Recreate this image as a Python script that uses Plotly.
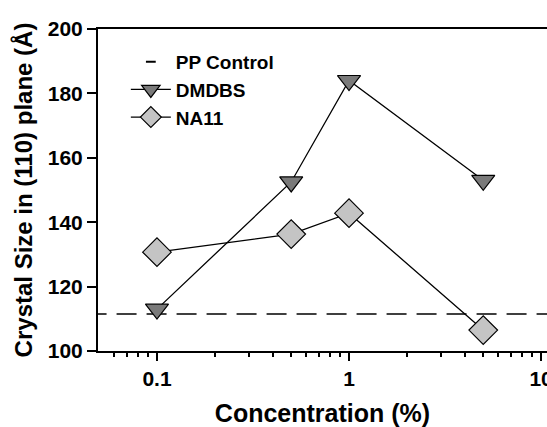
import plotly.graph_objects as go
import numpy as np

conc = [0.1, 0.5, 1, 5]
dmdbs = [113, 152.5, 184, 153]
na11 = [130.7, 136.3, 142.8, 106.5]
pp_control = 111.5
x_ticks = [0.1, 1, 10]
x_minor = [0.06, 0.07, 0.08, 0.09, 0.2, 0.3, 0.4, 0.5, 0.6, 0.7, 0.8, 0.9,
           2, 3, 4, 5, 6, 7, 8, 9]
y_ticks = [100, 120, 140, 160, 180, 200]

FONT = "Liberation Sans"

fig = go.Figure()
fig.add_trace(go.Scatter(
    x=[0.03, 20], y=[pp_control, pp_control], mode="lines", showlegend=False,
    line=dict(color="black", width=1.6, dash="20px,10px")))
fig.add_trace(go.Scatter(
    x=[None], y=[None], mode="markers", name="<b>PP Control</b>",
    marker=dict(symbol="line-ew", size=7, line=dict(color="black", width=2))))
fig.add_trace(go.Scatter(
    x=conc, y=dmdbs, mode="lines+markers", name="<b>DMDBS</b>",
    line=dict(color="black", width=1.3),
    marker=dict(symbol="triangle-down", size=20, color="#7a7a7a",
                line=dict(color="black", width=1.2))))
fig.add_trace(go.Scatter(
    x=conc, y=na11, mode="lines+markers", name="<b>NA11</b>",
    line=dict(color="black", width=1.3),
    marker=dict(symbol="diamond", size=22, color="#c4c4c4",
                line=dict(color="black", width=1.2))))

fig.update_layout(
    width=547, height=427,
    margin=dict(l=98, r=0, t=29, b=76),
    paper_bgcolor="white", plot_bgcolor="white",
    font=dict(family=FONT, size=18, color="black"),
    showlegend=True,
    legend=dict(x=0.062, y=0.957, xanchor="left", yanchor="top",
                bgcolor="rgba(0,0,0,0)", font=dict(size=19, family=FONT),
                tracegroupgap=0, itemwidth=40),
    xaxis=dict(type="log", range=[np.log10(0.0493), 1.031], automargin=False,
               tickmode="array", tickvals=x_ticks,
               ticktext=["<b>%g</b>" % v for v in x_ticks],
               tickfont=dict(size=21), ticklabeloverflow="allow",
               ticks="outside", ticklen=8, tickwidth=1.5, tickcolor="black",
               showline=True, linecolor="black", linewidth=2, mirror=True,
               showgrid=False, zeroline=False,
               minor=dict(tickmode="array", tickvals=x_minor, ticks="outside",
                          ticklen=4, tickwidth=1.5, tickcolor="black", showgrid=False),
               title=dict(text="<b>Concentration (%)</b>", font=dict(size=25, family=FONT),
                          standoff=16)),
    yaxis=dict(range=[100, 200], tickmode="array", tickvals=y_ticks,
               ticktext=["<b>%d</b>" % v for v in y_ticks],
               tickfont=dict(size=21), automargin=False,
               ticks="outside", ticklen=9, tickwidth=1.5, tickcolor="black",
               showline=True, linecolor="black", linewidth=2,
               showgrid=False, zeroline=False,
               title=dict(text="<b>Crystal Size in (110) plane (Å)</b>",
                          font=dict(size=24, family=FONT), standoff=8)),
)

fig.write_html("out.html")
